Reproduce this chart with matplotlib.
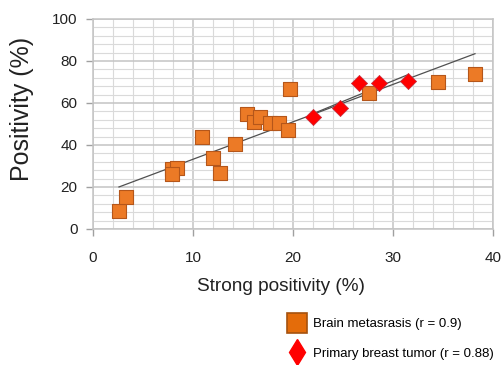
import numpy as np
import matplotlib
matplotlib.use("Agg")
import matplotlib.pyplot as plt
from matplotlib.lines import Line2D
from matplotlib.ticker import MultipleLocator

plt.rcParams['font.family'] = ['Liberation Sans', 'DejaVu Sans']

# brain metastasis (orange squares)
brain_x = [2.6, 3.3, 7.9, 8.4, 7.9, 10.9, 12.0, 12.7, 14.2, 15.4, 16.1, 16.7,
           17.7, 18.6, 19.5, 19.7, 27.6, 34.5, 38.2]
brain_y = [8.6, 15.2, 28.4, 28.9, 26.1, 43.7, 33.9, 26.7, 40.5, 54.6, 50.8, 53.2,
           50.5, 50.5, 47.1, 66.9, 64.6, 70.0, 73.8]

# primary breast tumor (red diamonds)
breast_x = [22.0, 24.7, 26.6, 28.6, 31.5]
breast_y = [53.5, 57.5, 69.4, 69.4, 70.5]

labels = ["Brain metasrasis (r = 0.9)", "Primary breast tumor (r = 0.88)"]

fig = plt.figure(figsize=(5.03, 3.65), dpi=100)
ax = fig.add_axes([93/503, 1 - 229/365, 400/503, 210/365])

ax.set_xlim(0, 40)
ax.set_ylim(0, 100)
ax.xaxis.set_major_locator(MultipleLocator(10))
ax.xaxis.set_minor_locator(MultipleLocator(2))
ax.yaxis.set_major_locator(MultipleLocator(20))
ax.yaxis.set_minor_locator(MultipleLocator(4))
ax.grid(which='major', color='#c4c4c4', lw=1.1)
ax.grid(which='minor', color='#dadada', lw=0.8)
ax.set_axisbelow(True)
for s in ax.spines.values():
    s.set_color('#c4c4c4')
    s.set_linewidth(1.1)
ax.tick_params(which='minor', length=0)
ax.tick_params(axis='both', which='major', color='#a0a0a0', length=5, width=1,
               labelsize=11, labelcolor='#222222')
ax.tick_params(axis='x', pad=11)
ax.tick_params(axis='y', pad=6)

# trend lines
for xs, ys in [(brain_x, brain_y), (breast_x, breast_y)]:
    k, b = np.polyfit(xs, ys, 1)
    xx = np.array([min(xs), max(xs)])
    ax.plot(xx, k * xx + b, color='#505050', lw=0.9, zorder=2)

ax.scatter(brain_x, brain_y, marker='s', s=95, color='#ec7a26',
           edgecolor='#b5561a', linewidth=0.8, zorder=3)
ax.scatter(breast_x, breast_y, marker='D', s=68, color='#ff0000',
           edgecolor='#c03040', linewidth=0.5, zorder=4)

ax.set_xlabel("Strong positivity (%)", fontsize=13.7, color='#222222')
ax.xaxis.set_label_coords(0.47, -0.235)
ax.set_ylabel("Positivity (%)", fontsize=18, color='#222222')
ax.yaxis.set_label_coords(-0.148, 0.57)

handles = [
    Line2D([], [], ls='none', marker='s', markersize=14, color='#e46c0a',
           markeredgecolor='#a5520e', markeredgewidth=1.2),
    Line2D([], [], ls='none', marker='d', markersize=13, color='#ff0000',
           markeredgecolor='#ff0000'),
]
fig.legend(handles, labels, loc='upper left', bbox_to_anchor=(289/503, 1 - 318/365),
           frameon=False, fontsize=9.5, handlelength=1.2, handletextpad=0.6,
           labelspacing=1.3, borderaxespad=0, borderpad=0)

fig.savefig("out.png", dpi=100)
